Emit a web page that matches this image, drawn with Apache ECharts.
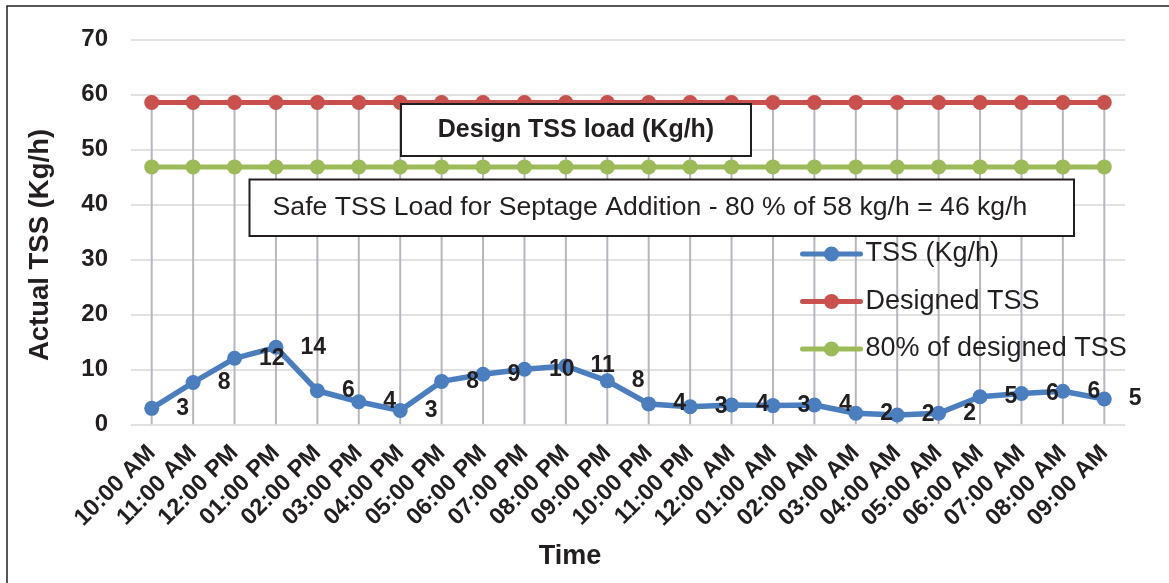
<!DOCTYPE html>
<html><head><meta charset="utf-8">
<script src="https://cdn.jsdelivr.net/npm/echarts@6/dist/echarts.min.js"></script>
<style>html,body{margin:0;padding:0;background:#fff}#c{width:1169px;height:583px}</style>
</head><body><div id="c"></div>
<script>
const categories = ['10:00 AM','11:00 AM','12:00 PM','01:00 PM','02:00 PM','03:00 PM','04:00 PM','05:00 PM','06:00 PM','07:00 PM','08:00 PM','09:00 PM','10:00 PM','11:00 PM','12:00 AM','01:00 AM','02:00 AM','03:00 AM','04:00 AM','05:00 AM','06:00 AM','07:00 AM','08:00 AM','09:00 AM'];
const tss = [2.9, 7.6, 12.0, 14.0, 6.1, 4.1, 2.5, 7.8, 9.1, 10.0, 10.6, 7.9, 3.7, 3.2, 3.5, 3.4, 3.5, 2.0, 1.7, 2.0, 5.0, 5.6, 6.0, 4.6];
const designed = [58.5, 58.5, 58.5, 58.5, 58.5, 58.5, 58.5, 58.5, 58.5, 58.5, 58.5, 58.5, 58.5, 58.5, 58.5, 58.5, 58.5, 58.5, 58.5, 58.5, 58.5, 58.5, 58.5, 58.5];
const safe80 = [46.8, 46.8, 46.8, 46.8, 46.8, 46.8, 46.8, 46.8, 46.8, 46.8, 46.8, 46.8, 46.8, 46.8, 46.8, 46.8, 46.8, 46.8, 46.8, 46.8, 46.8, 46.8, 46.8, 46.8];
const seriesNames = ['TSS (Kg/h)', 'Designed TSS', '80% of designed TSS'];
const yTicks = {min: 0, max: 70, interval: 10};
const yTitle = 'Actual TSS (Kg/h)';
const xTitle = 'Time';
const note1 = 'Design TSS load (Kg/h)';
const note2 = 'Safe TSS Load for Septage Addition - 80 % of 58 kg/h = 46 kg/h';

const FONT = "'Liberation Sans', Arial, sans-serif";
const INK = '#231f20';
const chart = echarts.init(document.getElementById('c'), null, {renderer: 'canvas'});
chart.setOption({
  animation: false,
  backgroundColor: '#ffffff',
  textStyle: {fontFamily: FONT},
  grid: {left: 131, right: 44, top: 39.3, bottom: 158.7, outerBoundsMode: 'none'},
  legend: {
    data: seriesNames, orient: 'vertical', left: 800, top: 239, padding: 0,
    itemWidth: 58, itemHeight: 19, itemGap: 17.5, selectedMode: false,
    lineStyle: {width: 5, cap: 'round'},
    textStyle: {fontSize: 27, color: INK, fontFamily: FONT, lineHeight: 30}
  },
  xAxis: {
    type: 'category', data: categories, boundaryGap: true,
    axisLine: {show: false}, axisTick: {show: false}, splitLine: {show: false},
    axisLabel: {interval: 0, rotate: 45, margin: 25, fontSize: 23.5, fontWeight: 'bold', color: INK, fontFamily: FONT}
  },
  yAxis: {
    type: 'value', min: yTicks.min, max: yTicks.max, interval: yTicks.interval,
    axisLine: {show: false}, axisTick: {show: false},
    axisLabel: {margin: 23, fontSize: 24, fontWeight: 'bold', color: INK, fontFamily: FONT},
    splitLine: {lineStyle: {color: '#d9d9d9', width: 1.5}}
  },
  series: [
    {type: 'bar', name: 'drop', data: designed, barWidth: 2, silent: true, z: 1,
     itemStyle: {color: '#b6b6be'}},
    {type: 'line', name: seriesNames[0], data: tss, z: 4, symbol: 'circle', symbolSize: 15,
     lineStyle: {color: '#4a7ebf', width: 5.5}, itemStyle: {color: '#4a7ebf'},
     label: {show: true, position: 'right', distance: 17, fontSize: 23, fontWeight: 'bold', color: INK, fontFamily: FONT,
             formatter: p => String(Math.round(p.value))}},
    {type: 'line', name: seriesNames[1], data: designed, z: 3, symbol: 'circle', symbolSize: 15,
     lineStyle: {color: '#c9504d', width: 5}, itemStyle: {color: '#c9504d'}},
    {type: 'line', name: seriesNames[2], data: safe80, z: 3, symbol: 'circle', symbolSize: 15,
     lineStyle: {color: '#9bbb59', width: 5}, itemStyle: {color: '#9bbb59'}}
  ],
  graphic: [
    {type: 'rect', silent: true, z: 100, shape: {x: 7, y: 6, width: 1300, height: 700},
     style: {fill: 'none', stroke: INK, lineWidth: 1.5}},
    {type: 'rect', silent: true, z: 100, shape: {x: 401, y: 104, width: 350, height: 52},
     style: {fill: '#ffffff', stroke: INK, lineWidth: 2}},
    {type: 'text', silent: true, z: 101, x: 576, y: 130,
     style: {text: note1, fill: INK, fontSize: 25, fontWeight: 'bold', fontFamily: FONT, align: 'center', verticalAlign: 'middle'}},
    {type: 'rect', silent: true, z: 100, shape: {x: 249.5, y: 179.5, width: 824.5, height: 56.5},
     style: {fill: '#ffffff', stroke: INK, lineWidth: 2}},
    {type: 'text', silent: true, z: 101, x: 272.6, y: 208,
     style: {text: note2, fill: INK, fontSize: 26.6, fontFamily: FONT, align: 'left', verticalAlign: 'middle'}},
    {type: 'text', silent: true, z: 101, x: 40, y: 245, rotation: Math.PI / 2,
     style: {text: yTitle, fill: INK, fontSize: 27.5, fontWeight: 'bold', fontFamily: FONT, align: 'center', verticalAlign: 'middle'}},
    {type: 'text', silent: true, z: 101, x: 570, y: 557,
     style: {text: xTitle, fill: INK, fontSize: 27, fontWeight: 'bold', fontFamily: FONT, align: 'center', verticalAlign: 'middle'}}
  ]
});
</script></body></html>
